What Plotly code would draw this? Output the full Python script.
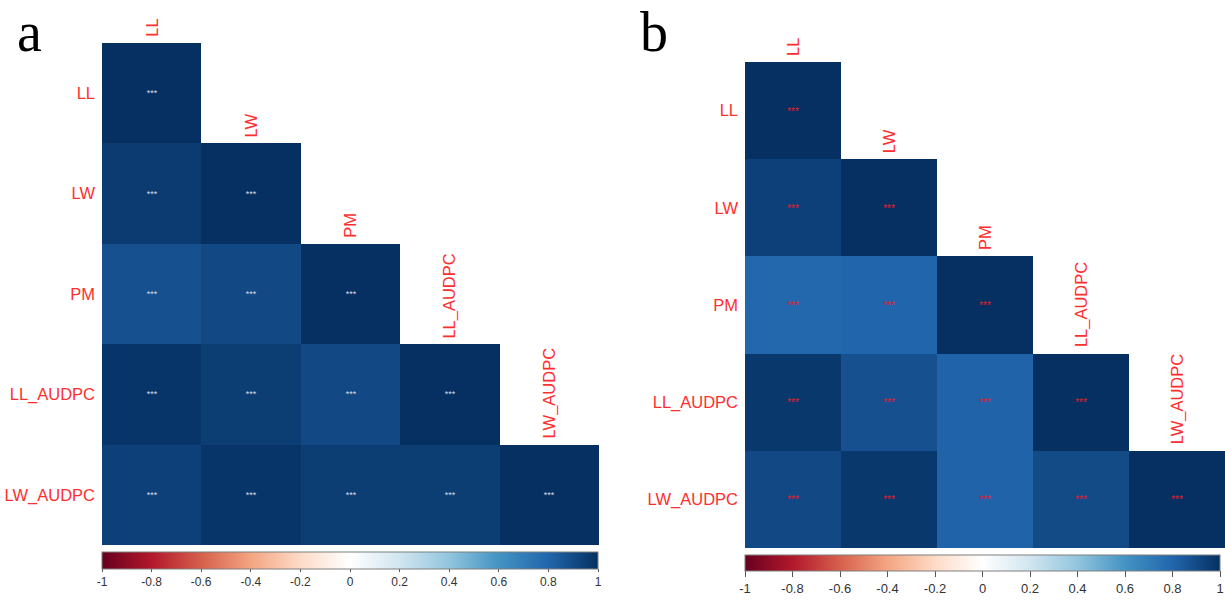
import plotly.graph_objects as go

W, H = 1225, 600

labels = ["LL", "LW", "PM", "LL_AUDPC", "LW_AUDPC"]

# lower-triangle correlation values (row i, columns 0..i)
corr_a = [
    [1.00],
    [0.96, 1.00],
    [0.88, 0.91, 1.00],
    [0.98, 0.95, 0.91, 1.00],
    [0.94, 0.98, 0.95, 0.95, 1.00],
]
corr_b = [
    [1.00],
    [0.94, 1.00],
    [0.79, 0.80, 1.00],
    [0.97, 0.88, 0.81, 1.00],
    [0.91, 0.97, 0.81, 0.90, 1.00],
]
sig_a = [["***"] * (i + 1) for i in range(5)]
sig_b = [["***"] * (i + 1) for i in range(5)]

colorbar_ticks = [-1, -0.8, -0.6, -0.4, -0.2, 0, 0.2, 0.4, 0.6, 0.8, 1]
rdbu = ["#67001F", "#B2182B", "#D6604D", "#F4A582", "#FDDBC7", "#FFFFFF",
        "#D1E5F0", "#92C5DE", "#4393C3", "#2166AC", "#053061"]
colorscale = [[i / (len(rdbu) - 1), c] for i, c in enumerate(rdbu)]

LABEL_RED = "#FF2E2E"


def full(tri, fill):
    n = len(tri)
    return [[tri[i][j] if j <= i else fill for j in range(n)] for i in range(n)]


def px_x(p):
    return p / W


def px_y(p):
    return 1 - p / H


fig = go.Figure()

panels = [
    dict(corr=corr_a, sig=sig_a, xa="x", ya="y", xd=(102, 599), yd=(43, 545),
         star="#D8DCE4", starsize=9, cb=(102, 598, 552, 17), cbfont=12, cblen=3,
         letter="a", lpos=(29, 0)),
    dict(corr=corr_b, sig=sig_b, xa="x2", ya="y2", xd=(745, 1225), yd=(62, 548),
         star="#E0202C", starsize=10, cb=(745, 1220, 555, 16), cbfont=13, cblen=6,
         letter="b", lpos=(654, 0)),
]

for k, p in enumerate(panels):
    z = full(p["corr"], None)
    t = full(p["sig"], "")
    x0, x1, top, th = p["cb"]
    fig.add_trace(go.Heatmap(
        z=z, x=list(range(5)), y=list(range(5)), text=t,
        texttemplate="%{text}",
        textfont=dict(size=p["starsize"], color=p["star"], family="Liberation Sans"),
        colorscale=colorscale, zmin=-1, zmax=1,
        xaxis=p["xa"], yaxis=p["ya"], hoverinfo="skip",
        colorbar=dict(
            orientation="h", x=px_x((x0 + x1) / 2), xanchor="center",
            y=px_y(top), yanchor="top", len=(x1 - x0) / W, lenmode="fraction",
            thickness=th, xpad=0, ypad=0,
            outlinecolor="#7F7F7F", outlinewidth=1,
            tickvals=colorbar_ticks, ticktext=[f"{v:g}" for v in colorbar_ticks],
            ticks="outside", ticklen=p["cblen"], tickcolor="#555555",
            tickfont=dict(size=p["cbfont"], color="#333333", family="Liberation Sans"),
        ),
    ))
    sfx = "" if k == 0 else "2"
    fig.update_layout(**{
        "xaxis" + sfx: dict(domain=[px_x(p["xd"][0]), px_x(p["xd"][1])],
                            range=[-0.5, 4.5], showgrid=False, zeroline=False,
                            showticklabels=False, anchor="y" + sfx),
        "yaxis" + sfx: dict(domain=[px_y(p["yd"][1]), px_y(p["yd"][0])],
                            range=[4.5, -0.5], showgrid=False, zeroline=False,
                            tickvals=list(range(5)), ticktext=labels,
                            ticks="", ticklabelstandoff=6,
                            tickfont=dict(size=16.5, color=LABEL_RED, family="Liberation Sans"),
                            anchor="x" + sfx),
    })
    for i, lab in enumerate(labels):
        fig.add_annotation(
            x=i, y=i - 0.5, xref=p["xa"], yref=p["ya"], text=lab,
            textangle=-90, showarrow=False, xanchor="center", yanchor="bottom",
            yshift=4, font=dict(size=16.5, color=LABEL_RED, family="Liberation Sans"),
        )
    fig.add_annotation(
        x=px_x(p["lpos"][0]), y=px_y(p["lpos"][1]), xref="paper", yref="paper",
        text=p["letter"], showarrow=False, xanchor="center", yanchor="top",
        borderpad=0,
        font=dict(size=56, color="black", family="Liberation Serif"),
    )

fig.update_layout(
    width=W, height=H,
    margin=dict(l=0, r=0, t=0, b=0, autoexpand=False),
    paper_bgcolor="white", plot_bgcolor="white",
    showlegend=False,
)

fig.write_html("out.html")
